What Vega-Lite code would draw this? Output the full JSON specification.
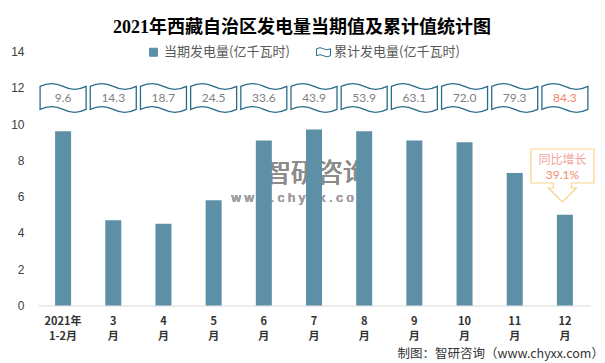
{
  "$schema": "https://vega.github.io/schema/vega-lite/v6.json",
  "width": 552,
  "height": 254,
  "autosize": {"type": "none"},
  "padding": {"left": 38, "top": 51.5, "right": 15, "bottom": 57.5},
  "background": "white",
  "config": {
    "view": {"stroke": null},
    "font": "Noto Sans CJK SC",
    "axisY": {
      "tickCount": 7,
      "domain": false,
      "ticks": false,
      "grid": false,
      "labelOverlap": false,
      "labelPadding": 14,
      "labelFont": "Liberation Sans",
      "labelFontSize": 12,
      "labelColor": "#404040"
    }
  },
  "title": {
    "text": "2021年西藏自治区发电量当期值及累计值统计图",
    "font": "Liberation Serif, Noto Sans CJK SC",
    "fontSize": 18,
    "fontWeight": "bold",
    "color": "#000000",
    "anchor": "middle",
    "frame": "group",
    "dx": -12,
    "offset": 8
  },
  "data": {
    "values": [
      {"m": "2021年|1-2月", "v": 9.6, "cum": 9.6},
      {"m": "3|月", "v": 4.7, "cum": 14.3},
      {"m": "4|月", "v": 4.5, "cum": 18.7},
      {"m": "5|月", "v": 5.8, "cum": 24.5},
      {"m": "6|月", "v": 9.1, "cum": 33.6},
      {"m": "7|月", "v": 9.7, "cum": 43.9},
      {"m": "8|月", "v": 9.6, "cum": 53.9},
      {"m": "9|月", "v": 9.1, "cum": 63.1},
      {"m": "10|月", "v": 9.0, "cum": 72.0},
      {"m": "11|月", "v": 7.3, "cum": 79.3},
      {"m": "12|月", "v": 5.0, "cum": 84.3}
    ]
  },
  "encoding": {
    "x": {
      "field": "m",
      "type": "nominal",
      "sort": null,
      "scale": {
        "domain": ["2021年|1-2月", "3|月", "4|月", "5|月", "6|月", "7|月", "8|月", "9|月", "10|月", "11|月", "12|月"],
        "paddingInner": 0,
        "paddingOuter": 0
      },
      "axis": {
        "title": null,
        "labelAngle": 0,
        "labelExpr": "split(datum.value, '|')",
        "labelFont": "Noto Sans CJK SC",
        "labelFontSize": 11,
        "labelFontWeight": "bold",
        "labelColor": "#333333",
        "labelLineHeight": 15,
        "labelPadding": 10,
        "ticks": false,
        "domainColor": "#d9d9d9",
        "domainWidth": 1
      }
    }
  },
  "layer": [
    {
      "mark": {"type": "text", "font": "Noto Sans CJK SC", "fontSize": 26, "color": "#8c8c8c", "opacity": 0.55, "dx": 3, "baseline": "middle"},
      "encoding": {
        "x": {"datum": "7|月"},
        "y": {"datum": 7.25, "type": "quantitative", "title": null, "scale": {"domain": [0, 14], "nice": false}},
        "text": {"value": "智研咨询"}
      }
    },
    {
      "mark": {"type": "text", "font": "Liberation Sans", "fontSize": 13, "color": "#a0a0a0", "opacity": 0.8, "dx": 36, "baseline": "middle"},
      "encoding": {
        "x": {"datum": "6|月"},
        "y": {"datum": 5.9, "type": "quantitative", "title": null},
        "text": {"value": "w w w . c h y x x . c o m"}
      }
    },
    {
      "mark": {"type": "bar", "size": 16},
      "encoding": {
        "y": {
          "field": "v",
          "type": "quantitative",
          "title": null
        },
        "color": {
          "datum": "当期发电量(亿千瓦时)",
          "type": "nominal",
          "scale": {
            "domain": ["当期发电量(亿千瓦时)", "累计发电量(亿千瓦时)"],
            "range": ["#5D8FA6", "#ffffff"]
          },
          "legend": {
            "orient": "none",
            "legendX": 108,
            "legendY": -7,
            "direction": "horizontal",
            "title": null,
            "labelFont": "Noto Sans CJK SC",
            "labelFontSize": 13,
            "labelColor": "#595959",
            "labelOffset": 3,
            "columnPadding": 24,
            "symbolSize": 196,
            "encode": {
              "symbols": {
                "update": {
                  "shape": {"signal": "datum.value === '当期发电量(亿千瓦时)' ? 'square' : 'M-1,-0.5Q-0.5,-0.8,0,-0.5T1,-0.5L1,0.5Q0.5,0.8,0,0.5T-1,0.5Z'"},
                  "size": {"signal": "datum.value === '当期发电量(亿千瓦时)' ? 64 : 196"},
                  "fill": {"signal": "datum.value === '当期发电量(亿千瓦时)' ? '#5D8FA6' : '#ffffff'"},
                  "stroke": {"signal": "datum.value === '当期发电量(亿千瓦时)' ? '#5D8FA6' : '#2A6D8A'"},
                  "strokeWidth": {"value": 1},
                  "opacity": {"value": 1}
                }
              }
            }
          }
        }
      }
    },
    {
      "mark": {
        "type": "point",
        "shape": "M-1,-0.5Q-0.5,-0.75,0,-0.5T1,-0.5L1,0.5Q0.5,0.75,0,0.5T-1,0.5Z",
        "size": 2116,
        "filled": true,
        "fill": "#ffffff",
        "stroke": "#2A6D8A",
        "strokeWidth": 1.3,
        "opacity": 1
      },
      "encoding": {
        "y": {"datum": 11.44, "type": "quantitative", "title": null}
      }
    },
    {
      "mark": {"type": "text", "font": "Lato", "fontSize": 12, "baseline": "middle"},
      "encoding": {
        "y": {"datum": 11.44, "type": "quantitative", "title": null},
        "text": {"field": "cum", "type": "quantitative", "format": ".1f"},
        "color": {
          "condition": {"test": "datum.m === '12|月'", "value": "#F4846C"},
          "value": "#7f7f7f"
        }
      }
    },
    {
      "data": {"values": [{"m": "12|月", "label": "同比增长", "yoy": "39.1%"}]},
      "layer": [
        {
          "mark": {
            "type": "point",
            "shape": "M-0.7875,-0.425L0.7875,-0.425L0.7875,0.425L0.225,0.425L0.225,0.55L0.35,0.55L0,0.9L-0.35,0.55L-0.225,0.55L-0.225,0.425L-0.7875,0.425Z",
            "size": 6400,
            "filled": true,
            "fill": "#ffffff",
            "stroke": "#F9D48B",
            "strokeWidth": 1.2,
            "opacity": 1,
            "xOffset": -2.5
          },
          "encoding": {"y": {"datum": 7.69, "type": "quantitative", "title": null}}
        },
        {
          "mark": {"type": "text", "fontSize": 12, "color": "#F4A3A0", "baseline": "middle", "dx": -2.5},
          "encoding": {
            "y": {"datum": 8.02, "type": "quantitative", "title": null},
            "text": {"field": "label"}
          }
        },
        {
          "mark": {"type": "text", "font": "Lato", "fontSize": 12, "color": "#F28B6D", "baseline": "middle", "dx": -2.5},
          "encoding": {
            "y": {"datum": 7.19, "type": "quantitative", "title": null},
            "text": {"field": "yoy"}
          }
        },
        {
          "mark": {"type": "text", "font": "Noto Sans CJK SC", "fontSize": 12.5, "color": "#333333", "align": "right", "baseline": "middle", "dx": 39},
          "encoding": {
            "y": {"datum": -2.68, "type": "quantitative", "title": null},
            "text": {"value": "制图：智研咨询（www.chyxx.com）"}
          }
        }
      ]
    }
  ]
}
